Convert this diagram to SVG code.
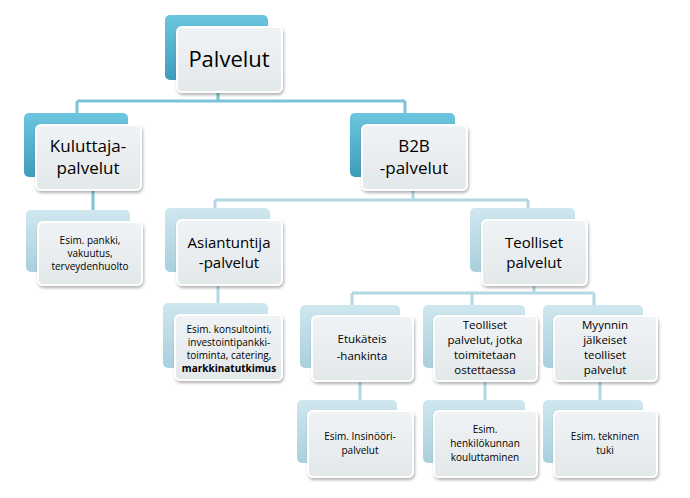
<svg xmlns="http://www.w3.org/2000/svg" width="690" height="498" viewBox="0 0 690 498">
<defs>
<linearGradient id="dk" x1="0" y1="0" x2="0" y2="1"><stop offset="0" stop-color="#6cc6de"/><stop offset="1" stop-color="#3f9cba"/></linearGradient>
<linearGradient id="lt" x1="0" y1="0" x2="0" y2="1"><stop offset="0" stop-color="#cfe7ef"/><stop offset="1" stop-color="#a9d0dd"/></linearGradient>
<linearGradient id="fr" x1="0" y1="0" x2="0" y2="1"><stop offset="0" stop-color="#f0f3f5"/><stop offset="1" stop-color="#e3e8eb"/></linearGradient>
<filter id="sh" x="-10%" y="-10%" width="130%" height="130%"><feDropShadow dx="1" dy="2" stdDeviation="1.5" flood-color="#000" flood-opacity="0.3"/></filter>
</defs>
<style>
.bd{fill:url(#dk)}
.bl{fill:url(#lt)}
.f{fill:url(#fr);stroke:#fff;stroke-width:2;filter:url(#sh)}
text{font-family:"Open Sans","DejaVu Sans",sans-serif;fill:#000;text-anchor:middle}
.t0{font-size:22px}.t1{font-size:17px}.t2{font-size:15px}.t3{font-size:11.5px}.t4{font-size:10px}
.c1{stroke:#7cc3d8;stroke-width:3;fill:none}
.c2{stroke:#b3d8e4;stroke-width:3;fill:none}
</style>
<g id="connectors">
<path class="c1" d="M218 92V101M77 101H405M77 101V113M405 101V113"/>
<path class="c1" d="M93 190V210" stroke="#3a9cc4"/>
<path class="c2" d="M413 190V200M215 200H528M215 200V208M528 200V208"/>
<path class="c2" d="M218 285V305"/>
<path class="c2" d="M534 285V293M352 293H594M352 293V305M472 293V305M594 293V305"/>
<path class="c2" d="M360 381V400M485 381V400M600 381V400"/>
</g>
<g id="n0"><rect class="bd" x="165" y="15" width="103" height="65" rx="5"/><rect class="f" x="177" y="27" width="105" height="65" rx="5"/><text class="t0" x="229" y="67">Palvelut</text></g>
<g id="n1"><rect class="bd" x="24" y="113" width="104" height="64" rx="5"/><rect class="f" x="36" y="125" width="105" height="65" rx="5"/><text class="t1" x="88" y="152">Kuluttaja-</text><text class="t1" x="88" y="174">palvelut</text></g>
<g id="n2"><rect class="bd" x="350" y="113" width="105" height="64" rx="5"/><rect class="f" x="362" y="125" width="105" height="65" rx="5"/><text class="t1" x="414" y="152">B2B</text><text class="t1" x="414" y="174">-palvelut</text></g>
<g id="n3"><rect class="bl" x="26" y="210" width="104" height="62" rx="5"/><rect class="f" x="38" y="222" width="104" height="63" rx="5"/><text class="t4" x="90" y="244">Esim. pankki,</text><text class="t4" x="90" y="257">vakuutus,</text><text class="t4" x="90" y="270">terveydenhuolto</text></g>
<g id="n4"><rect class="bl" x="165" y="208" width="105" height="64" rx="5"/><rect class="f" x="177" y="220" width="105" height="65" rx="5"/><text class="t2" x="229" y="248">Asiantuntija</text><text class="t2" x="229" y="268">-palvelut</text></g>
<g id="n5"><rect class="bl" x="470" y="208" width="105" height="64" rx="5"/><rect class="f" x="482" y="220" width="105" height="65" rx="5"/><text class="t2" x="534" y="248">Teolliset</text><text class="t2" x="534" y="268">palvelut</text></g>
<g id="n6"><rect class="bl" x="163" y="303" width="105" height="65" rx="5"/><rect class="f" x="175" y="315" width="107" height="65" rx="5"/><text class="t4" x="229" y="333">Esim. konsultointi,</text><text class="t4" x="229" y="346">investointipankki-</text><text class="t4" x="229" y="359">toiminta, catering,</text><text class="t4" x="229" y="372" font-weight="bold">markkinatutkimus</text></g>
<g id="n7"><rect class="bl" x="300" y="305" width="100" height="63" rx="5"/><rect class="f" x="312" y="316" width="101" height="65" rx="5"/><text class="t3" x="362" y="343">Etukäteis</text><text class="t3" x="362" y="360">-hankinta</text></g>
<g id="n8"><rect class="bl" x="423" y="305" width="102" height="63" rx="5"/><rect class="f" x="434" y="316" width="103" height="65" rx="5"/><text class="t3" x="485" y="329">Teolliset</text><text class="t3" x="485" y="344">palvelut, jotka</text><text class="t3" x="485" y="359">toimitetaan</text><text class="t3" x="485" y="374">ostettaessa</text></g>
<g id="n9"><rect class="bl" x="543" y="305" width="100" height="63" rx="5"/><rect class="f" x="554" y="316" width="103" height="65" rx="5"/><text class="t3" x="605" y="329">Myynnin</text><text class="t3" x="605" y="344">jälkeiset</text><text class="t3" x="605" y="359">teolliset</text><text class="t3" x="605" y="374">palvelut</text></g>
<g id="n10"><rect class="bl" x="297" y="400" width="100" height="63" rx="5"/><rect class="f" x="308" y="411" width="105" height="66" rx="5"/><text class="t4" x="360" y="440">Esim. Insinööri-</text><text class="t4" x="360" y="454">palvelut</text></g>
<g id="n11"><rect class="bl" x="423" y="400" width="102" height="63" rx="5"/><rect class="f" x="434" y="411" width="103" height="66" rx="5"/><text class="t4" x="485" y="433">Esim.</text><text class="t4" x="485" y="447">henkilökunnan</text><text class="t4" x="485" y="461">kouluttaminen</text></g>
<g id="n12"><rect class="bl" x="543" y="400" width="100" height="63" rx="5"/><rect class="f" x="554" y="411" width="103" height="66" rx="5"/><text class="t4" x="605" y="440">Esim. tekninen</text><text class="t4" x="605" y="454">tuki</text></g>
</svg>
